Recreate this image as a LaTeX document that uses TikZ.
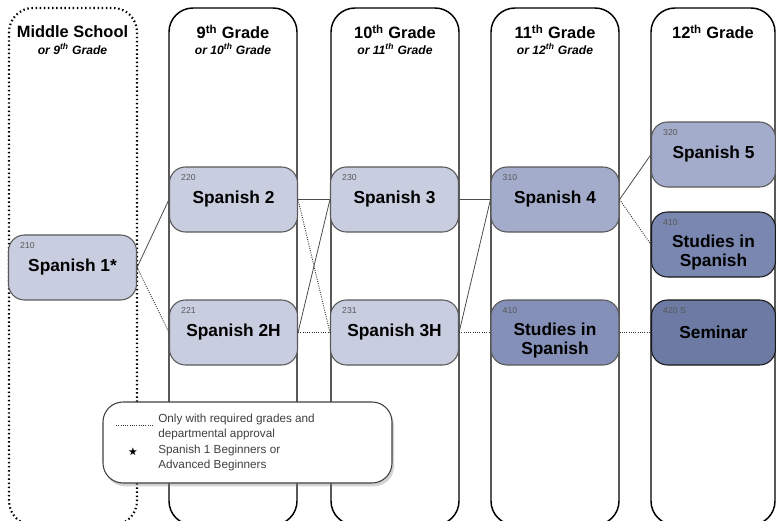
\documentclass[tikz,border=0pt]{standalone}
\usepackage{amssymb}
\usepackage{fontspec}
\setmainfont{Liberation Sans}
\usetikzlibrary{shadows}

\definecolor{spLight}{RGB}{200,205,224}
\definecolor{spMid}{RGB}{164,172,203}
\definecolor{spDeep}{RGB}{132,144,183}
\definecolor{spDeeper}{RGB}{122,135,176}
\definecolor{spDark}{RGB}{108,122,164}

\tikzset{
  column/.style={line width=1.1pt, rounded corners=18pt},
  head/.style={font=\fontsize{12.3}{14}\selectfont\bfseries, inner sep=0pt},
  sub/.style={font=\fontsize{9.1}{10}\selectfont\bfseries\itshape, inner sep=0pt},
  course/.style={draw=black!65, line width=0.8pt, rounded corners=12pt,
    minimum width=96pt, minimum height=48.75pt, inner sep=1pt, align=center,
    font=\fontsize{13}{14.5}\selectfont\bfseries},
  twoline/.style={text height=33.7pt, text depth=0pt},
  num/.style={font=\fontsize{6.5}{7}\selectfont, text=black!65, anchor=north west,
    inner sep=0pt, xshift=9pt, yshift=-6pt},
  link/.style={draw=black!70, line width=0.6pt},
  optional/.style={draw=black!80, line width=0.7pt, densely dotted},
  legtxt/.style={font=\fontsize{8.8}{11.2}\selectfont, text=black!75, align=left, inner sep=0pt}
}

\begin{document}
\begin{tikzpicture}[x=0.75pt,y=-0.75pt]

  \useasboundingbox (0,0) rectangle (776,521);

  % grade columns
  \draw[column, dotted, line width=1.6pt] (9,8) rectangle (137,525);
  \draw[column] (169,8) rectangle (297,525);
  \draw[column] (331,8) rectangle (459,525);
  \draw[column] (491,8) rectangle (619,525);
  \draw[column] (651,8) rectangle (775,525);

  \node[head] (hms) at (72.5,32) {Middle School};
  \node[sub] (sms) at (72.5,49) {or 9\textsuperscript{th} Grade};
  \node[head] (h9) at (233,32) {9\textsuperscript{th} Grade};
  \node[sub] (s9) at (233,49) {or 10\textsuperscript{th} Grade};
  \node[head] (h10) at (395,32) {10\textsuperscript{th} Grade};
  \node[sub] (s10) at (395,49) {or 11\textsuperscript{th} Grade};
  \node[head] (h11) at (555,32) {11\textsuperscript{th} Grade};
  \node[sub] (s11) at (555,49) {or 12\textsuperscript{th} Grade};
  \node[head] (h12) at (713,32) {12\textsuperscript{th} Grade};

  % courses
  \node[course, fill=spLight, label={[num]north west:210}] (sp1) at (72.5,267.5) {Spanish 1*};

  \node[course, fill=spLight, label={[num]north west:220}] (sp2) at (233.5,199.5) {Spanish 2};
  \node[course, fill=spLight, label={[num]north west:221}] (sp2h) at (233.5,332.5) {Spanish 2H};

  \node[course, fill=spLight, label={[num]north west:230}] (sp3) at (394.5,199.5) {Spanish 3};
  \node[course, fill=spLight, label={[num]north west:231}] (sp3h) at (394.5,332.5) {Spanish 3H};

  \node[course, fill=spMid, label={[num]north west:310}] (sp4) at (555,199.5) {Spanish 4};
  \node[course, twoline, fill=spDeep, label={[num]north west:410}] (stud11) at (555,332.5) {Studies in\\Spanish};

  \node[course, fill=spMid, minimum width=93pt, label={[num]north west:320}] (sp5) at (713.5,154.5) {Spanish 5};
  \node[course, twoline, fill=spDeeper, draw=black!90, minimum width=93pt, label={[num]north west:410}] (stud12) at (713.5,244.5) {Studies in\\Spanish};
  \node[course, fill=spDark, draw=black!90, minimum width=93pt, label={[num]north west:420 S}] (sem) at (713.5,332.5) {Seminar};

  % paths
  \draw[link] (sp1.east) -- (sp2.west);
  \draw[optional] (sp1.east) -- (sp2h.west);
  \draw[link] (sp2.east) -- (sp3.west);
  \draw[optional] (sp2.east) -- (sp3h.west);
  \draw[link] (sp2h.east) -- (sp3.west);
  \draw[optional] (sp2h.east) -- (sp3h.west);
  \draw[link] (sp3.east) -- (sp4.west);
  \draw[link] (sp3h.east) -- (sp4.west);
  \draw[optional] (sp3h.east) -- (stud11.west);
  \draw[link] (sp4.east) -- (sp5.west);
  \draw[optional] (sp4.east) -- (stud12.west);
  \draw[optional] (stud11.east) -- (sem.west);

  % legend
  \node[draw=black!75, line width=0.8pt, fill=white, rounded corners=15pt,
    minimum width=216.75pt, minimum height=60.75pt,
    drop shadow={shadow xshift=1.5pt, shadow yshift=-2.5pt, opacity=0.35}] (leg) at (247.5,442.5) {};
  \coordinate (dotA) at (116,425);
  \coordinate (dotB) at (153,425);
  \draw[optional, line width=0.6pt] (dotA) -- (dotB);
  \node[inner sep=0pt, font=\fontsize{7}{8}\selectfont] (star) at (133,452) {$\bigstar$};
  \node[legtxt, anchor=west] (note1) at (158,427) {Only with required grades and\\departmental approval};
  \node[legtxt, anchor=west] (note2) at (158,457.5) {Spanish 1 Beginners or\\Advanced Beginners};

\end{tikzpicture}
\end{document}
